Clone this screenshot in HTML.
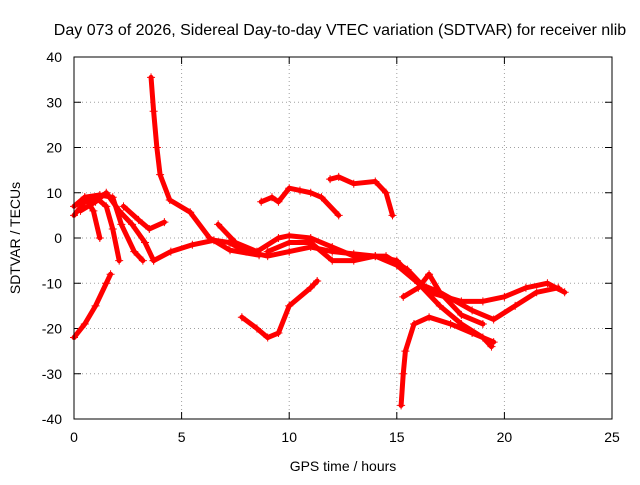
<!DOCTYPE html>
<html><head><meta charset="utf-8"><style>
body{margin:0;background:#fff}
svg text{font-family:"Liberation Sans",sans-serif;font-size:14px;fill:#000}
</style></head><body>
<svg id="c" width="640" height="480">
<rect width="640" height="480" fill="#fff"/>
<text x="340" y="35" text-anchor="middle" style="font-size:16px">Day 073 of 2026, Sidereal Day-to-day VTEC variation (SDTVAR) for receiver nlib</text>
<text x="343" y="471" text-anchor="middle">GPS time / hours</text>
<text transform="translate(20,238) rotate(-90)" text-anchor="middle">SDTVAR / TECUs</text>
<g id="grid"></g><g id="ticks"></g><g id="series"></g>
<rect x="74" y="57" width="538" height="362" fill="none" stroke="#000"/>
</svg>
<script>
const xTicks=[0,5,10,15,20,25];
const yTicks=[-40,-30,-20,-10,0,10,20,30,40];
const tracks=[
[[0,-22],[0.5,-19],[1,-15],[1.5,-10],[1.7,-8]],
[[3.58,35.5],[3.7,28],[3.85,20],[4.0,14],[4.45,8.4],[5.4,5.7],[6.3,0],[7.25,-2.7],[8.6,-3.8]],
[[0,5],[0.5,8],[1,9],[1.5,7],[1.8,2],[2.1,-5]],
[[0,7],[0.5,9],[1.2,9.5],[1.8,9],[2.2,3],[2.8,-3],[3.2,-5]],
[[0.3,6],[1,8],[1.5,10],[2.1,6],[2.7,3],[3.3,-1],[3.7,-5]],
[[0.5,9],[0.9,6],[1.2,0]],
[[2.3,7],[3,4],[3.5,2],[4.2,3.5]],
[[3.7,-5],[4.5,-3],[5.5,-1.5],[6.5,-0.5],[7.2,-1],[8,-3],[9,-4],[10,-3],[11,-2],[12,-3],[13,-3.5],[14,-4],[15,-5],[16,-10],[17,-15],[18,-19],[19,-22],[19.4,-24]],
[[6.7,3],[7.5,-1],[8.5,-3],[9.5,0],[10,0.5],[11,0],[12,-2],[13,-4],[14.5,-4],[15.5,-7],[16.5,-12],[18,-14],[19,-14],[20,-13],[21,-11],[22,-10],[22.8,-12]],
[[9,-3],[10,-1],[11,-1],[12,-5],[13,-5],[14,-4],[15,-6],[16,-10],[17,-12],[18.5,-16],[19.5,-18],[20.5,-15],[21.5,-12],[22.5,-11]],
[[15.2,-37],[15.3,-30],[15.4,-25],[15.8,-19],[16.5,-17.5],[17.5,-19],[18.5,-21],[19.5,-23]],
[[7.8,-17.5],[8.5,-20],[9,-22],[9.5,-21],[10,-15],[11,-11],[11.3,-9.5]],
[[8.7,8],[9.2,9],[9.5,8],[10,11],[10.5,10.5],[11,10],[11.5,9],[12.3,5]],
[[11.9,13],[12.3,13.5],[13,12],[14,12.5],[14.5,10],[14.8,5]],
[[15.3,-13],[16,-11],[16.5,-8],[17,-12],[18,-17],[19,-19]]
];
const X=h=>74+h*538/25, Y=v=>238-v*362/80;
const NS="http://www.w3.org/2000/svg";
function mk(t,a,p){const e=document.createElementNS(NS,t);for(const k in a)e.setAttribute(k,a[k]);p.appendChild(e);return e;}
const g=document.getElementById('grid'),tk=document.getElementById('ticks'),s=document.getElementById('series');
xTicks.forEach(v=>{
 if(v>0&&v<25){const l=mk('line',{x1:X(v),x2:X(v),y1:57,y2:419,stroke:'#a0a0a0','stroke-dasharray':'1,3'},g);
 
 }
 const t=mk('text',{x:X(v),y:442,'text-anchor':'middle'},tk);t.textContent=v;
 
 
 mk('line',{x1:X(v),x2:X(v),y1:419,y2:412,stroke:'#000'},tk);mk('line',{x1:X(v),x2:X(v),y1:57,y2:64,stroke:'#000'},tk);
});
yTicks.forEach(v=>{
 if(v>-40&&v<40){const l=mk('line',{x1:74,x2:612,y1:Y(v),y2:Y(v),stroke:'#a0a0a0','stroke-dasharray':'1,3'},g);
 
 }
 const t=mk('text',{x:62,y:Y(v)+5,'text-anchor':'end'},tk);t.textContent=v;
 
 
 mk('line',{x1:74,x2:81,y1:Y(v),y2:Y(v),stroke:'#000'},tk);mk('line',{x1:612,x2:605,y1:Y(v),y2:Y(v),stroke:'#000'},tk);
});
tracks.forEach((tr,i)=>{
 const p=mk('polyline',{points:tr.map(d=>X(d[0])+','+Y(d[1])).join(' '),fill:'none',stroke:'#f00','stroke-width':5,'stroke-linejoin':'round','stroke-linecap':'round'},s);
 
 
 tr.forEach(d=>{const x=X(d[0]),y=Y(d[1]);
  const m=mk('path',{d:`M${x-4},${y}H${x+4}M${x},${y-4}V${y+4}`,stroke:'#f00','stroke-width':1},s);
  
  });
});
</script>
</body></html>
